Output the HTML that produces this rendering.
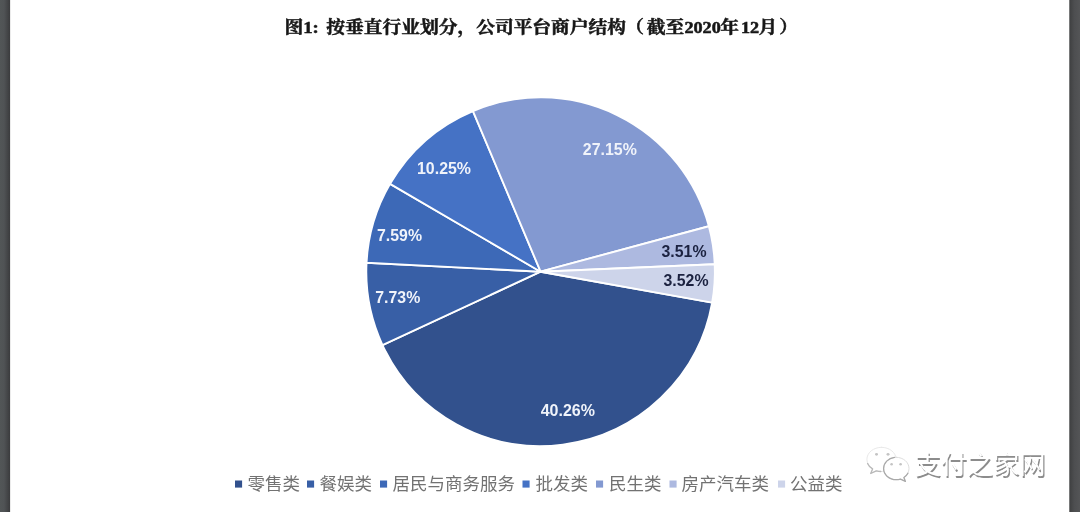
<!DOCTYPE html>
<html lang="zh-CN">
<head>
<meta charset="utf-8">
<title>图1</title>
<style>
html,body{margin:0;padding:0;background:#fff;}
body{width:1080px;height:512px;overflow:hidden;position:relative;}
svg{display:block;position:absolute;left:0;top:0;}
.title{font-family:"Liberation Serif","Noto Serif CJK SC",serif;font-weight:bold;font-size:18.75px;fill:#161616;stroke:#161616;stroke-width:0.55px;}
.lbl{font-family:"Liberation Sans","DejaVu Sans",sans-serif;font-weight:bold;font-size:15.6px;fill:#F0F3FA;}
.lbld{fill:#1b2240;}
.leg{font-family:"Liberation Sans","Noto Sans CJK SC",sans-serif;font-size:17.5px;fill:#727272;}
.wm{font-family:"Liberation Sans","Noto Sans CJK SC",sans-serif;font-size:26.2px;}
</style>
</head>
<body>
<svg width="1080" height="512" viewBox="0 0 1080 512">
<defs>
<linearGradient id="lb" x1="0" x2="1" y1="0" y2="0"><stop offset="0" stop-color="#525657"/><stop offset="0.4" stop-color="#505355"/><stop offset="0.95" stop-color="#3c3d3f"/><stop offset="1" stop-color="#3c3d3f"/></linearGradient>
<linearGradient id="rb" x1="0" x2="1" y1="0" y2="0"><stop offset="0" stop-color="#3e3f40"/><stop offset="0.45" stop-color="#4d4e50"/><stop offset="1" stop-color="#545557"/></linearGradient>
<filter id="soft" filterUnits="userSpaceOnUse" x="0" y="0" width="1080" height="512"><feGaussianBlur stdDeviation="0.4"/></filter>
</defs>
<rect x="0" y="0" width="1080" height="512" fill="#ffffff"/>
<rect x="0" y="0" width="10.1" height="512" fill="url(#lb)"/>
<rect x="1069.3" y="0" width="10.7" height="512" fill="url(#rb)"/>

<g filter="url(#soft)">
<text class="title" y="0" transform="translate(0,33) scale(1,0.92)"><tspan x="284.5">图1: </tspan><tspan x="326.3">按垂直行业划分，公司平台商户结构</tspan><tspan x="625.3">（</tspan><tspan x="646.7">截至</tspan><tspan x="684.4" font-size="18.2">2020</tspan><tspan x="720.3">年</tspan><tspan x="741" font-size="18.2">12</tspan><tspan x="758.5">月</tspan><tspan x="779.3">）</tspan></text>

<g stroke="#ffffff" stroke-width="1.9" stroke-linejoin="round">
<path d="M540.6,271.7 L712.15,302.57 A174.3,174.3 0 0 1 382.47,345.03 Z" fill="#30518D"/>
<path d="M540.6,271.7 L382.47,345.03 A174.3,174.3 0 0 1 366.53,262.74 Z" fill="#375EA6"/>
<path d="M540.6,271.7 L366.53,262.74 A174.3,174.3 0 0 1 390.06,183.84 Z" fill="#3C69B7"/>
<path d="M540.6,271.7 L390.06,183.84 A174.3,174.3 0 0 1 472.96,111.06 Z" fill="#4472C5"/>
<path d="M540.6,271.7 L472.96,111.06 A174.3,174.3 0 0 1 708.88,226.28 Z" fill="#8399D1"/>
<path d="M540.6,271.7 L708.88,226.28 A174.3,174.3 0 0 1 714.74,264.19 Z" fill="#ADB9E0"/>
<path d="M540.6,271.7 L714.74,264.19 A174.3,174.3 0 0 1 712.15,302.57 Z" fill="#CDD4EA"/>
</g>

<g class="lbl">
<text x="417" y="173.9" textLength="54" lengthAdjust="spacingAndGlyphs">10.25%</text>
<text x="582.8" y="155.1" textLength="54" lengthAdjust="spacingAndGlyphs">27.15%</text>
<text x="377" y="241.0" textLength="45" lengthAdjust="spacingAndGlyphs">7.59%</text>
<text x="375.3" y="302.5" textLength="45" lengthAdjust="spacingAndGlyphs">7.73%</text>
<text x="540.7" y="415.5" textLength="54.3" lengthAdjust="spacingAndGlyphs">40.26%</text>
<text class="lbld" x="661.5" y="257.1" textLength="45" lengthAdjust="spacingAndGlyphs">3.51%</text>
<text class="lbld" x="663.5" y="286.1" textLength="45" lengthAdjust="spacingAndGlyphs">3.52%</text>
</g>

<g class="leg">
<rect x="235" y="480.5" width="7.1" height="7.1" fill="#30518D"/><text x="247.5" y="490">零售类</text>
<rect x="307" y="480.5" width="7.1" height="7.1" fill="#375EA6"/><text x="319.5" y="490">餐娱类</text>
<rect x="380" y="480.5" width="7.1" height="7.1" fill="#3C69B7"/><text x="392.5" y="490">居民与商务服务</text>
<rect x="522.5" y="480.5" width="7.1" height="7.1" fill="#4472C5"/><text x="535.5" y="490">批发类</text>
<rect x="596" y="480.5" width="7.1" height="7.1" fill="#8399D1"/><text x="609" y="490">民生类</text>
<rect x="669.5" y="480.5" width="7.1" height="7.1" fill="#ADB9E0"/><text x="681.5" y="490">房产汽车类</text>
<rect x="778" y="480.5" width="7.1" height="7.1" fill="#CDD4EA"/><text x="790" y="490">公益类</text>
</g>

<g class="wmicon" fill="#ffffff" stroke-linejoin="round" stroke-linecap="round">
<path d="M881.5,447.3 c-8.2,0 -14.6,5.4 -14.6,12.1 c0,3.9 2.2,7.3 5.7,9.5 l-1.9,4.6 l5.6,-2.7 c1.6,0.5 3.4,0.7 5.2,0.7 c8.200,0 14.6,-5.4 14.6,-12.1 c0,-6.7 -6.4,-12.1 -14.600,-12.1 z" stroke="#e8e8e8" stroke-width="1"/>
<path d="M867.600,463.5 c0.9,2.200 2.700,4.100 5,5.400 l-1.900,4.600 l5.600,-2.700 c1.500,0.400 3.000,0.700 4.600,0.700" fill="none" stroke="#b9b9b9" stroke-width="1.300"/>
<path d="M896.300,457.300 c-7.100,0 -12.700,5.000 -12.700,11.200 c0,6.200 5.600,11.200 12.700,11.200 c1.500,0 2.900,-0.200 4.200,-0.600 l4.900,2.300 l-1.500,-3.900 c3.100,-2.000 5.100,-5.300 5.100,-9.000 c0,-6.200 -5.600,-11.200 -12.700,-11.200 z" stroke="#dddddd" stroke-width="1"/>
<path d="M894.500,457.400 c-6.200,0.800 -10.900,5.400 -10.900,11.100 c0,6.200 5.600,11.200 12.700,11.200 c1.500,0 2.900,-0.200 4.200,-0.600 l4.900,2.300 l-1.500,-3.900 c1.700,-1.100 3.100,-2.600 4.000,-4.300" fill="none" stroke="#a9a9a9" stroke-width="1.300"/>
<g fill="#c4c4c4" stroke="none">
<ellipse cx="876.500" cy="454.300" rx="1.500" ry="1.400"/><ellipse cx="888.000" cy="454.300" rx="1.500" ry="1.400"/>
<ellipse cx="891.600" cy="464.200" rx="1.300" ry="1.300"/><ellipse cx="900.600" cy="464.200" rx="1.300" ry="1.300"/>
</g>
</g>
<g class="wm">
<text x="915.7" y="475.6" fill="#8c8c8c">支付之家网</text>
<text x="914.5" y="474.4" fill="#ffffff">支付之家网</text>
</g>
</g>
</svg>
</body>
</html>
